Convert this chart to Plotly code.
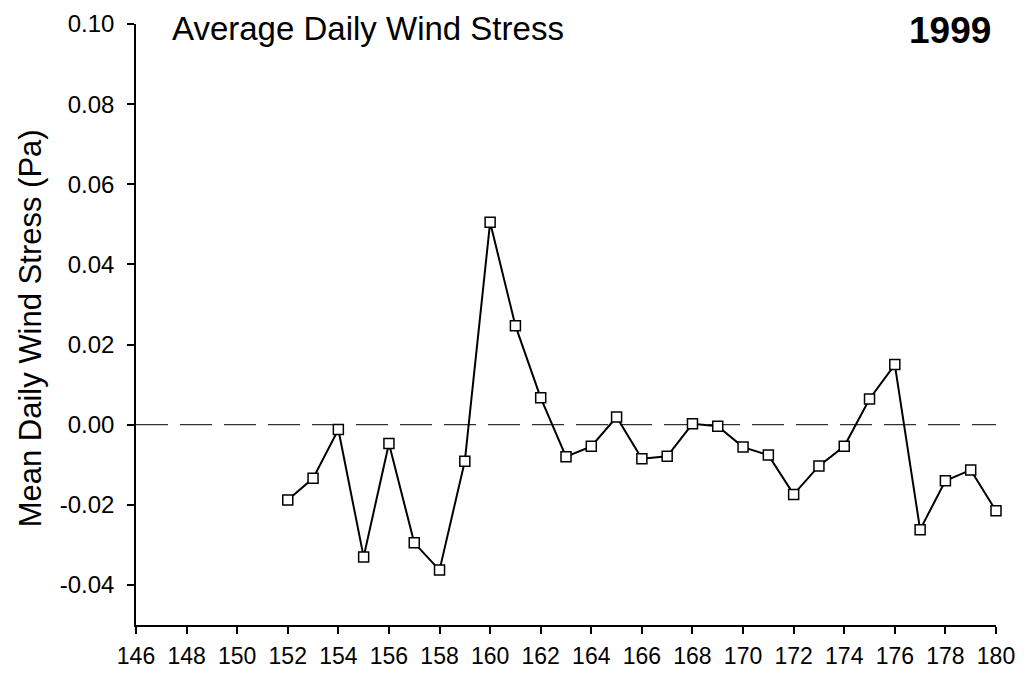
import plotly.graph_objects as go

days = list(range(152, 181))
stress = [-0.0188, -0.0134, -0.0012, -0.0330, -0.0047, -0.0295, -0.0363, -0.0091,
          0.0505, 0.0247, 0.0067, -0.0080, -0.0054, 0.0019, -0.0085, -0.0079,
          0.0002, -0.0004, -0.0056, -0.0076, -0.0174, -0.0103, -0.0054, 0.0064,
          0.0150, -0.0262, -0.0140, -0.0113, -0.0215]

x_ticks = list(range(146, 181, 2))
y_ticks = [-0.04, -0.02, 0.00, 0.02, 0.04, 0.06, 0.08, 0.10]
y_tick_labels = ["-0.04", "-0.02", "0.00", "0.02", "0.04", "0.06", "0.08", "0.10"]

title_text = "Average Daily Wind Stress"
year_text = "1999"
y_title = "Mean Daily Wind Stress (Pa)"

FONT = "Liberation Sans, Arial, Helvetica, sans-serif"

fig = go.Figure()
fig.add_trace(go.Scatter(
    x=days, y=stress, mode="lines+markers",
    line=dict(color="black", width=2),
    marker=dict(symbol="square", size=10, color="white",
                line=dict(color="black", width=1.5)),
    showlegend=False, cliponaxis=False,
))

fig.add_shape(type="line", xref="x", yref="y", x0=146, x1=180, y0=0, y1=0,
              line=dict(color="#333333", width=1.3, dash="32px,12px"), layer="below")

fig.add_annotation(text=title_text, xref="paper", yref="paper", x=0.0396, y=1.0266,
                   xanchor="left", yanchor="top", showarrow=False,
                   font=dict(family=FONT, size=33, color="black"))
fig.add_annotation(text="<b>" + year_text + "</b>", xref="paper", yref="paper",
                   x=0.9965, y=0.99, xanchor="right", yanchor="middle", showarrow=False,
                   font=dict(family=FONT, size=37, color="black"))
fig.add_annotation(text=y_title, xref="paper", yref="paper", x=-0.123, y=0.494,
                   xanchor="center", yanchor="middle", textangle=-90, showarrow=False,
                   font=dict(family=FONT, size=31, color="black"))

fig.update_xaxes(range=[146, 180], tickvals=x_ticks, ticks="outside", ticklen=7,
                 tickwidth=1.5, tickcolor="black", showline=True, linecolor="black",
                 linewidth=1.5, showgrid=False, zeroline=False, ticklabelstandoff=3,
                 automargin=False,
                 tickfont=dict(family=FONT, size=23, color="black"))
fig.update_yaxes(range=[-0.05, 0.10], tickvals=y_ticks, ticktext=y_tick_labels,
                 ticks="outside", ticklen=7, tickwidth=1.5, tickcolor="black",
                 showline=True, linecolor="black", linewidth=1.5, showgrid=False,
                 zeroline=False, ticklabelstandoff=8, automargin=False,
                 tickfont=dict(family=FONT, size=24, color="black"))

fig.update_layout(width=1024, height=674, plot_bgcolor="white", paper_bgcolor="white",
                  margin=dict(l=128, r=36, t=16, b=57, autoexpand=False),
                  font=dict(family=FONT))

fig.write_html("out.html")
